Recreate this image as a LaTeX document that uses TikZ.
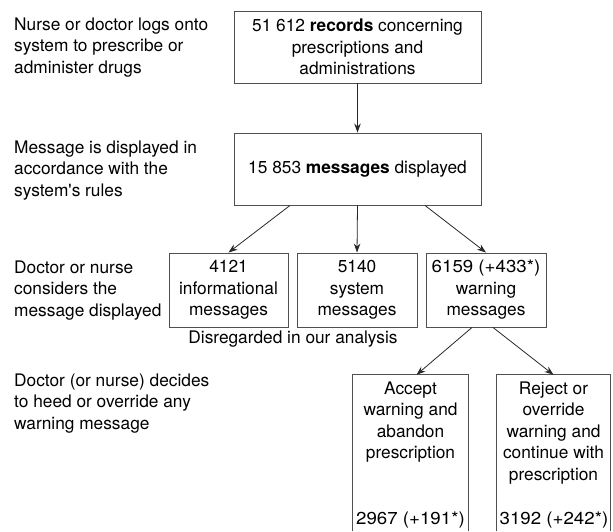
\documentclass[tikz,border=0pt]{standalone}
\usepackage{fontspec}
\setmainfont{TeX Gyre Heros}
\usetikzlibrary{arrows.meta,calc}
\definecolor{boxc}{RGB}{80,80,80}
\definecolor{linec}{RGB}{40,40,40}
\newcommand{\widenum}[1]{\scalebox{1.08}[1]{#1}}
\tikzset{
  txt/.style={inner sep=0pt, font=\fontsize{17.3}{21.5}\selectfont},
  lbl/.style={txt, align=left, anchor=north west},
  box/.style={draw=boxc, line width=0.9pt, inner sep=0pt, align=center, font=\fontsize{17.3}{21.5}\selectfont},
  frame/.style={draw=boxc, line width=0.9pt},
  arr/.style={draw=linec, line width=0.8pt, -{Stealth[length=9pt,width=6.5pt]}},
}
\begin{document}
\begin{tikzpicture}[x=1pt,y=-1pt]
\useasboundingbox (0,0) rectangle (613,531);
% left-hand descriptions
\node[lbl] (l1) at (14,17.2) {Nurse or doctor logs onto\\system to prescribe or\\administer drugs};
\node[lbl] (l2) at (14,140.2) {Message is displayed in\\accordance with the\\system\textquotesingle s rules};
\node[lbl] (l3) at (14,260.2) {Doctor or nurse\\considers the\\message displayed};
\node[lbl] (l4) at (14,373.2) {Doctor (or nurse) decides\\to heed or override any\\warning message};
% boxes
\node[box, minimum width=247, minimum height=72] (rec) at (357.5,47) {51 612 \textbf{records} concerning\\prescriptions and\\administrations};
\node[box, minimum width=247, minimum height=72] (msg) at (357.5,169) {15 853 \textbf{messages} displayed};
\node[box, minimum width=119, minimum height=74] (info) at (228.5,290) {4121\\informational\\messages};
\node[box, minimum width=120, minimum height=74] (sys) at (357,290) {5140\\system\\messages};
\node[box, minimum width=120, minimum height=74] (warn) at (486,290) {\widenum{6159 (+433*)}\\warning\\messages};
\node[txt, anchor=base] (dis) at (293,343) {Disregarded in our analysis};
% open-bottom boxes
\node[inner sep=0pt, minimum width=115, minimum height=156] (acc) at (410.5,453) {};
\draw[frame] (acc.south west) -- (acc.north west) -- (acc.north east) -- (acc.south east);
\node[txt, align=center, anchor=north] (acct) at (410.5,381.2) {Accept\\warning and\\abandon\\prescription};
\node[txt, anchor=base west] (accn) at (356,524) {\widenum{2967 (+191*)}};
\node[inner sep=0pt, minimum width=113, minimum height=156] (rej) at (553.5,453) {};
\draw[frame] (rej.south west) -- (rej.north west) -- (rej.north east) -- (rej.south east);
\node[txt, align=center, anchor=north] (rejt) at (553.5,381.2) {Reject or\\override\\warning and\\continue with\\prescription};
\node[txt, anchor=base west] (rejn) at (499.5,524) {\widenum{3192 (+242*)}};
% arrows
\draw[arr] (rec.south) -- (msg.north);
\draw[arr] ($(msg.south)+(-67.5,0)$) -- (info.north);
\draw[arr] (msg.south) -- (sys.north);
\draw[arr] ($(msg.south)+(67.5,0)$) -- (warn.north);
\draw[arr] ($(warn.south)+(-14,0)$) -- ($(acc.north)+(6,0)$);
\draw[arr] ($(warn.south)+(7,0)$) -- (rej.north);
\end{tikzpicture}
\end{document}
